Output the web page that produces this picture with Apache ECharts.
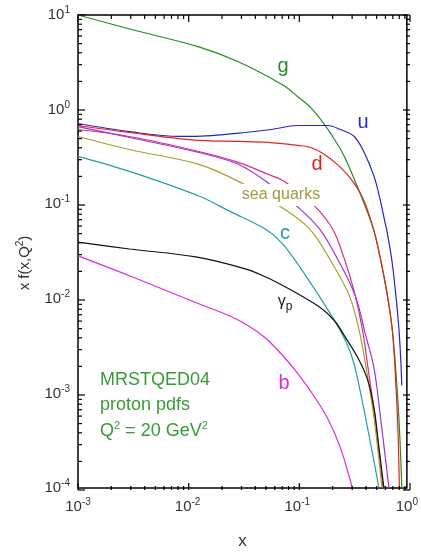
<!DOCTYPE html>
<html>
<head>
<meta charset="utf-8">
<script src="https://cdn.jsdelivr.net/npm/echarts@6/dist/echarts.min.js"></script>
<style>
html, body { margin: 0; padding: 0; background: #fff; }
#chart { width: 421px; height: 555px; }
</style>
</head>
<body>
<div id="chart"></div>
<script>
// MRSTQED04 proton pdfs at Q^2 = 20 GeV^2, points [x, x f(x,Q^2)]
var gluon = [[0.001, 10], [0.00295, 7.12], [0.01265, 4.6], [0.029, 3.2], [0.0757, 1.79], [0.1011, 1.37],
    [0.1327, 1.05], [0.1775, 0.695], [0.2188, 0.483], [0.269, 0.32], [0.352, 0.155], [0.434, 0.0844],
    [0.502, 0.052], [0.569, 0.0277], [0.658, 0.01156], [0.731, 0.00507], [0.778, 0.00233],
    [0.846, 0.000546], [0.9, 0.0001]];
var upQuark = [[0.001, 0.713], [0.00295, 0.586], [0.00834, 0.52], [0.0166, 0.532], [0.0336, 0.573],
    [0.0577, 0.616], [0.1011, 0.679], [0.189, 0.679], [0.248, 0.616], [0.331, 0.52], [0.408, 0.352],
    [0.502, 0.197], [0.569, 0.113], [0.631, 0.0647], [0.658, 0.052], [0.731, 0.0251], [0.794, 0.0108],
    [0.846, 0.00483], [0.881, 0.00217], [0.899, 0.00121]];
var downQuark = [[0.001, 0.679], [0.00295, 0.573], [0.01265, 0.472], [0.029, 0.461], [0.0542, 0.45],
    [0.1011, 0.418], [0.1327, 0.398], [0.1775, 0.336], [0.248, 0.245], [0.331, 0.166], [0.408, 0.1076],
    [0.502, 0.052], [0.569, 0.0277], [0.658, 0.01156], [0.731, 0.00507], [0.778, 0.00193],
    [0.828, 0.000428], [0.854, 0.0001]];
var seaPink = [[0.001, 0.616], [0.00295, 0.52], [0.01265, 0.361], [0.029, 0.277], [0.0542, 0.207],
    [0.0789, 0.17], [0.144, 0.0953], [0.21, 0.0546], [0.269, 0.0264], [0.331, 0.0119], [0.392, 0.00483],
    [0.443, 0.00183], [0.513, 0.000546], [0.605, 0.0001]];
var seaPurple = [[0.001, 0.662], [0.00295, 0.507], [0.01265, 0.352], [0.029, 0.264], [0.0565, 0.162],
    [0.0971, 0.0976], [0.16, 0.0546], [0.233, 0.0264], [0.338, 0.0108], [0.417, 0.00428],
    [0.502, 0.00183], [0.569, 0.000615], [0.686, 0.0001]];
var seaOlive = [[0.001, 0.52], [0.00295, 0.379], [0.01265, 0.264], [0.0303, 0.17], [0.0697, 0.0953],
    [0.13, 0.0546], [0.21, 0.0233], [0.2985, 0.0108], [0.367, 0.00464], [0.426, 0.00183],
    [0.502, 0.000546], [0.593, 0.0001]];
var charm = [[0.001, 0.32], [0.00295, 0.222], [0.01265, 0.122], [0.0251, 0.0824], [0.051, 0.0546],
    [0.0711, 0.0398], [0.1011, 0.0233], [0.1535, 0.0113], [0.233, 0.0052], [0.286, 0.00328],
    [0.331, 0.00202], [0.384, 0.000929], [0.462, 0.000313], [0.557, 0.0001]];
var photon = [[0.001, 0.0398], [0.00295, 0.0336], [0.01188, 0.0277], [0.0336, 0.0207], [0.051, 0.0171],
    [0.0668, 0.0147], [0.1011, 0.0113], [0.163, 0.00804], [0.2188, 0.00586], [0.269, 0.00408],
    [0.352, 0.00245], [0.434, 0.00144], [0.502, 0.000695], [0.557, 0.000264], [0.618, 0.0001]];
var bottom = [[0.001, 0.0284], [0.00295, 0.0175], [0.01265, 0.00886], [0.0251, 0.00647], [0.0358, 0.0052],
    [0.051, 0.00388], [0.0668, 0.00284], [0.0912, 0.00188], [0.1327, 0.00105], [0.189, 0.000546],
    [0.248, 0.000264], [0.318, 0.0001]];

var xRange = [0.001, 1];
var yRange = [0.0001, 10];

// tick positions: [value, 1 for a decade / 0 for the 2..9 minor ones]
function logTicks(range) {
    var out = [];
    for (var d = Math.round(Math.log10(range[0])); d < Math.round(Math.log10(range[1])); d++) {
        var base = Math.pow(10, d);
        out.push([base, 1]);
        for (var k = 2; k <= 9; k++) out.push([+(k * base).toPrecision(3), 0]);
    }
    out.push([range[1], 1]);
    return out;
}
var xTicks = logTicks(xRange);
var yTicks = logTicks(yRange);

var font = 'Liberation Sans, Arial, sans-serif';
var grid = { left: 78, top: 15, width: 332, height: 475 };

var powRich = {
    n: { fontSize: 15, fontFamily: font, color: '#333' },
    e: { fontSize: 10, fontFamily: font, color: '#333', padding: [0, 0, 9, 0] }
};
function powLabel(v) {
    return '{n|10}{e|' + Math.round(Math.log10(v)) + '}';
}

function curve(data, color) {
    return {
        type: 'line', data: data, showSymbol: false, smooth: 0.35,
        lineStyle: { color: color, width: 1.2 }, itemStyle: { color: color }
    };
}

function tag(text, x, y, color, size, extra) {
    return {
        type: 'text', x: x, y: y, z: 100,
        style: Object.assign({
            text: text, fill: color, fontSize: size, fontFamily: font,
            align: 'center', verticalAlign: 'middle'
        }, extra || {})
    };
}

// inward tick marks on all four edges of the frame (thin filled rects)
function frac(v, range) {
    return (Math.log10(v) - Math.log10(range[0])) / (Math.log10(range[1]) - Math.log10(range[0]));
}
function bar(x, y, w, h) {
    return { type: 'rect', silent: true, z: 50, shape: { x: x, y: y, width: w, height: h }, style: { fill: '#000' } };
}
var tickMarks = [];
var gBottom = grid.top + grid.height, gRight = grid.left + grid.width;
xTicks.forEach(function (t) {
    var len = t[1] ? 7 : 4;
    var x = grid.left + frac(t[0], xRange) * grid.width;
    tickMarks.push(bar(x - 0.6, gBottom - len, 1.2, len));
    tickMarks.push(bar(x - 0.6, grid.top, 1.2, len));
});
yTicks.forEach(function (t) {
    var len = t[1] ? 7 : 4;
    var y = gBottom - frac(t[0], yRange) * grid.height;
    tickMarks.push(bar(grid.left, y - 0.6, len, 1.2));
    tickMarks.push(bar(gRight - len, y - 0.6, len, 1.2));
});

var chart = echarts.init(document.getElementById('chart'));
chart.setOption({
    animation: false,
    backgroundColor: '#fff',
    grid: {
        left: grid.left, top: grid.top, width: grid.width, height: grid.height, containLabel: false,
        show: true, borderColor: '#000', borderWidth: 1.5, backgroundColor: 'transparent'
    },
    xAxis: {
        type: 'log', logBase: 10, min: xRange[0], max: xRange[1],
        axisLine: { show: false, onZero: false },
        axisTick: { show: false },
        axisLabel: { formatter: powLabel, rich: powRich, margin: 9 },
        splitLine: { show: false },
        name: 'x', nameLocation: 'middle', nameGap: 45,
        nameTextStyle: { fontSize: 17, fontFamily: font, color: '#333' }
    },
    yAxis: {
        type: 'log', logBase: 10, min: yRange[0], max: yRange[1],
        axisLine: { show: false, onZero: false },
        axisTick: { show: false },
        axisLabel: { formatter: powLabel, rich: powRich, margin: 8 },
        splitLine: { show: false }
    },
    series: [
        curve(gluon, '#228b22'),
        curve(upQuark, '#2424c8'),
        curve(downQuark, '#e62222'),
        curve(seaPink, '#dc2a86'),
        curve(seaPurple, '#9c34d8'),
        curve(seaOlive, '#a8a028'),
        curve(charm, '#23a0a0'),
        curve(photon, '#111111'),
        curve(bottom, '#e028e0')
    ],
    graphic: tickMarks.concat([
        tag('g', 283, 66, '#2a8a2a', 20),
        tag('u', 363, 122, '#2a2ac0', 20),
        tag('d', 317, 164, '#e02424', 20),
        tag('c', 285, 233, '#23a0a0', 20),
        tag('b', 284, 383, '#e028e0', 20),
        tag('sea quarks', 281, 195, '#a09a40', 16, { backgroundColor: '#fff', padding: [3, 2] }),
        tag('{g|γ}{p|p}', 285, 302, '#222', 16, {
            rich: { g: { fontSize: 16, fontFamily: font }, p: { fontSize: 12, fontFamily: font, padding: [10, 0, 0, 0] } }
        }),
        tag('MRSTQED04', 100, 380, '#3a9a3a', 18, { align: 'left' }),
        tag('proton pdfs', 100, 405, '#3a9a3a', 18, { align: 'left' }),
        tag('Q{s|2} = 20 GeV{s|2}', 100, 431, '#3a9a3a', 18, {
            align: 'left',
            rich: { s: { fontSize: 11, fontFamily: font, padding: [0, 0, 10, 0] } }
        }),
        {
            type: 'text', x: 25, y: 263, rotation: Math.PI / 2, z: 100,
            style: {
                text: 'x f(x,Q{s|2})', fill: '#333', fontSize: 15, fontFamily: font,
                align: 'center', verticalAlign: 'middle',
                rich: { s: { fontSize: 10, fontFamily: font, padding: [0, 0, 9, 0] } }
            }
        }
    ])
});
</script>
</body>
</html>
